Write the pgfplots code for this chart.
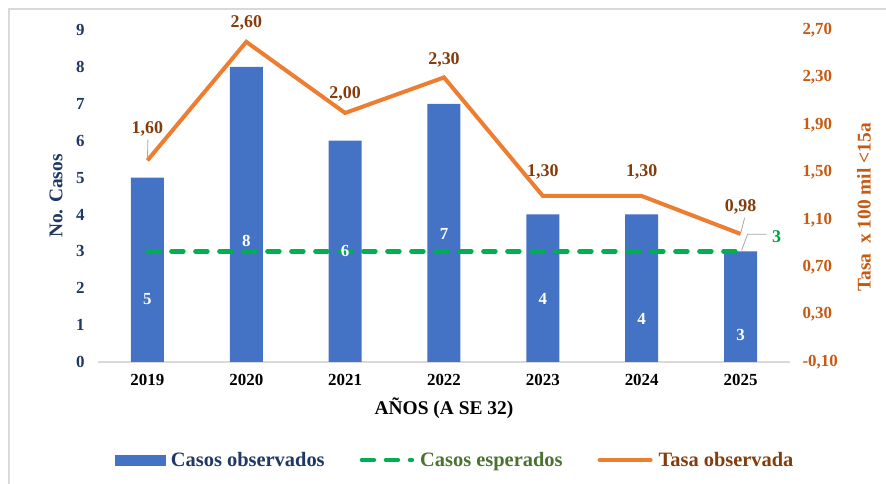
\documentclass[border=0pt]{standalone}
\usepackage{pgfplots}
\pgfplotsset{compat=1.18}
\usepackage{pgfplotstable}
\usepackage{fontspec}
\setmainfont{Liberation Serif}
\definecolor{barblue}{HTML}{4472C4}
\definecolor{orangeline}{HTML}{ED7D31}
\definecolor{greenline}{HTML}{00B050}
\definecolor{navy}{HTML}{1F3864}
\definecolor{rightorange}{HTML}{C55A11}
\definecolor{labbrown}{HTML}{843C0C}
\definecolor{legendgreen}{HTML}{4A7330}
\definecolor{labgreen}{HTML}{00A040}
\definecolor{framegray}{HTML}{D9D9D9}

\pgfplotstableread{
x cases dy
0 5 -121
1 8 -174
2 6 -110
3 7 -130
4 4 -84
5 4 -104
6 3 -84
}\casetable

\pgfplotstableread{
x rate dy
0 1.60 32
1 2.60 19
2 2.00 19
3 2.30 18
4 1.30 24
5 1.30 24
6 0.98 27
}\ratetable

\begin{document}
\begin{tikzpicture}
\useasboundingbox (0,0) rectangle (886bp,484bp);
\draw[framegray, line width=1.2bp] (9bp,0) -- (9bp,475bp) -- (886bp,475bp);

\begin{axis}[
  at={(98bp,122bp)}, anchor=south west,
  width=692bp, height=332bp, scale only axis,
  xmin=-0.5, xmax=6.5, ymin=0, ymax=9,
  xtick={0,...,6},
  xticklabels={2019,2020,2021,2022,2023,2024,2025},
  ytick={0,...,9},
  axis x line*=bottom, axis y line*=left,
  x axis line style={draw=framegray, line width=1.2bp, -},
  y axis line style={draw=none},
  major tick length=0pt,
  tick style={draw=none},
  /pgf/number format/assume math mode=true,
  xticklabel style={font=\bfseries\fontsize{17}{17}\selectfont, text=black, yshift=-9bp},
  yticklabel style={font=\bfseries\fontsize{17}{17}\selectfont, text=navy, xshift=-10bp},
  every axis x label/.style={at={(axis description cs:0.5,0)}, yshift=-46bp, anchor=center},
  every axis y label/.style={at={(axis description cs:0,0.5)}, xshift=-42bp, rotate=90, anchor=center},
  xlabel={AÑOS (A SE 32)},
  xlabel style={font=\bfseries\fontsize{19.5}{20}\selectfont, text=black},
  ylabel={No. Casos},
  ylabel style={font=\bfseries\fontsize{19.5}{20}\selectfont, text=navy},
  clip=false,
]
\addplot[ybar, bar width=33bp, fill=barblue, draw=none,
  nodes near coords,
  visualization depends on={\thisrow{dy} \as \dy},
  every node near coord/.append style={anchor=center, yshift={\dy bp}, text=white,
     font=\bfseries\fontsize{17}{17}\selectfont}]
  table[x=x, y=cases] {\casetable};
\addplot[greenline, line width=4.5bp, dash pattern=on 12bp off 12bp, line cap=round]
  coordinates {(0,3) (6,3)};
\addplot[draw=none, mark=none, nodes near coords,
  every node near coord/.append style={anchor=center, xshift=36bp, yshift=15bp, text=labgreen,
     font=\bfseries\fontsize{18}{18}\selectfont}]
  coordinates {(6,3)};
\coordinate (expP) at (axis cs:6,3);
\end{axis}

\begin{axis}[
  at={(98bp,122bp)}, anchor=south west,
  width=692bp, height=332bp, scale only axis,
  xmin=-0.5, xmax=6.5, ymin=-0.1, ymax=2.7,
  ytick={-0.1,0.3,0.7,1.1,1.5,1.9,2.3,2.7},
  axis x line=none, axis y line*=right,
  y axis line style={draw=none},
  major tick length=0pt,
  tick style={draw=none},
  /pgf/number format/assume math mode=true,
  yticklabel style={font=\bfseries\fontsize{17}{17}\selectfont, text=rightorange, xshift=9bp,
     /pgf/number format/.cd, fixed, fixed zerofill, precision=2, use comma},
  every axis y label/.style={at={(axis description cs:1,0.5)}, xshift=74bp, yshift=-11.5bp, rotate=90, anchor=center},
  ylabel={Tasa\ \ x 100 mil <15a},
  ylabel style={font=\bfseries\fontsize{19.5}{20}\selectfont, text=rightorange},
  clip=false,
  legend columns=3,
  legend cell align=left,
  legend style={at={(axis description cs:0.5,0)}, anchor=center, xshift=11bp, yshift=-98bp,
     draw=none, fill=none, font=\bfseries\fontsize{20.5}{22}\selectfont,
     /tikz/every odd column/.append style={column sep=4bp},
     /tikz/every even column/.append style={column sep=33bp}},
]
\addlegendimage{legend image code/.code={\fill[barblue] (0bp,-5bp) rectangle (50bp,5bp);}}
\addlegendentry{\textcolor{navy}{Casos observados}}
\addlegendimage{legend image code/.code={\draw[greenline, line width=4.5bp, dash pattern=on 12bp off 12bp, line cap=round] (2bp,0) -- (52bp,0);}}
\addlegendentry{\textcolor{legendgreen}{Casos esperados}}
\addlegendimage{legend image code/.code={\draw[orangeline, line width=4bp, line cap=round] (0bp,0) -- (51bp,0);}}
\addlegendentry{\textcolor{labbrown}{Tasa observada}}

\addplot[orangeline, line width=4bp, mark=none, forget plot,
  nodes near coords={\pgfmathprintnumber[fixed, fixed zerofill, precision=2, use comma, assume math mode=true]{\pgfplotspointmeta}},
  point meta=y,
  visualization depends on={\thisrow{dy} \as \dy},
  every node near coord/.append style={anchor=center, yshift={\dy bp}, text=labbrown,
     font=\bfseries\fontsize{18}{18}\selectfont}]
  table[x=x, y=rate] {\ratetable};
\coordinate (rateA) at (axis cs:0,1.6);
\coordinate (rateG) at (axis cs:6,0.98);
\end{axis}

\draw[gray!70, line width=0.8bp] ([shift={(0bp,2bp)}]rateA) -- ([shift={(0.5bp,21bp)}]rateA);
\draw[gray!70, line width=0.8bp] ([shift={(0.5bp,2bp)}]rateG) -- ([shift={(4bp,16bp)}]rateG);
\draw[gray!70, line width=0.8bp] ([shift={(1bp,1bp)}]expP) -- ([shift={(7bp,17bp)}]expP) -- ([shift={(26bp,17bp)}]expP);
\end{tikzpicture}
\end{document}
